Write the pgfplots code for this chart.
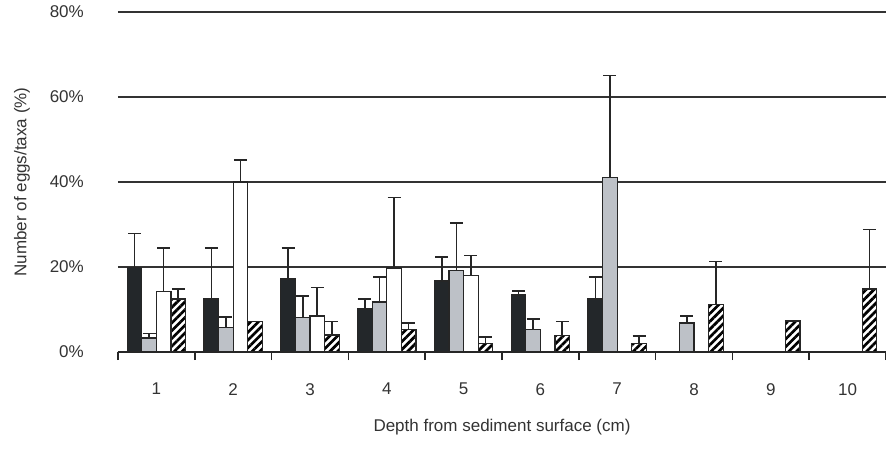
\documentclass[border=0pt]{standalone}
\usepackage{pgfplots}
\pgfplotsset{compat=1.18}
\usepackage{fontspec}
\setmainfont{Liberation Sans}
\usetikzlibrary{patterns.meta}
\definecolor{barblack}{HTML}{23272A}
\definecolor{bargray}{HTML}{BDC1C7}
\definecolor{edge}{HTML}{262626}
\definecolor{txt}{HTML}{333333}
\definecolor{gridc}{HTML}{333333}
\begin{document}
\begin{tikzpicture}
\path[use as bounding box] (-118pt,-96pt) rectangle (768pt,352pt);
\begin{axis}[
  at={(0,0)}, anchor=south west,
  scale only axis, width=768pt, height=340pt,
  xmin=0.5, xmax=10.5, ymin=0, ymax=80,
  ybar, bar width=0.19,
  axis x line*=bottom, axis y line*=left,
  y axis line style={draw=none},
  x axis line style={-, draw=edge, line width=1.3pt},
  xtick={1,2,3,4,5,6,7,8,9,10},
  xticklabels={1,2,3,4,5,6,7,8,9,10},
  minor xtick={0.5,1.5,...,10.5},
  ytick={0,20,40,60,80},
  yticklabels={0\%,20\%,40\%,60\%,80\%},
  ymajorgrids, grid style={draw=gridc, line width=1.3pt},
  major tick length=0pt, minor tick length=8pt, tick align=outside,
  tick style={draw=edge, line width=1.6pt},
  minor tick style={draw=edge, line width=1.6pt},
  ytick style={draw=none},
  tick label style={font=\fontsize{17}{20}\selectfont, text=txt},
  xticklabel style={anchor=north, inner sep=0pt, yshift=-31pt},
  yticklabel style={anchor=east, inner sep=0pt, xshift=-34pt},
  label style={font=\fontsize{17}{20}\selectfont, text=txt},
  xlabel={Depth from sediment surface (cm)},
  ylabel={Number of eggs/taxa (\%)},
  xlabel style={at={(axis description cs:0.5,0)}, anchor=north, inner sep=0pt, yshift=-67pt},
  ylabel style={at={(axis description cs:0,0.5)}, anchor=center, inner sep=0pt, yshift=96pt},
  error bars/y dir=plus, error bars/y explicit,
  error bars/error bar style={draw=edge, line width=1.6pt},
  error bars/error mark options={rotate=90, draw=edge, line width=1.6pt, mark size=6.5pt},
]
% black
\addplot[bar shift=-0.285, fill=barblack, draw=edge, line width=1.3pt] coordinates {
(1,19.9) +- (0,8.0)
(2,12.5) +- (0,12.0)
(3,17.2) +- (0,7.3)
(4,10.1) +- (0,2.4)
(5,16.7) +- (0,5.6)
(6,13.4) +- (0,1.0)
(7,12.5) +- (0,5.1)
};
% gray
\addplot[bar shift=-0.095, fill=bargray, draw=edge, line width=1.3pt] coordinates {
(1,3.3) +- (0,1.1)
(2,5.7) +- (0,2.6)
(3,8.2) +- (0,5.0)
(4,11.8) +- (0,5.8)
(5,19.1) +- (0,11.2)
(6,5.3) +- (0,2.4)
(7,41.0) +- (0,24.1)
(8,6.8) +- (0,1.7)
};
% white
\addplot[bar shift=0.095, fill=white, draw=edge, line width=1.3pt] coordinates {
(1,14.2) +- (0,10.3)
(2,40.0) +- (0,5.2)
(3,8.5) +- (0,6.7)
(4,19.8) +- (0,16.6)
(5,18.0) +- (0,4.7)
};
% hatched with error
\addplot[bar shift=0.285, pattern={Lines[angle=45,distance=5.5pt,line width=2.7pt]}, pattern color=black, draw=edge, line width=1.3pt] coordinates {
(1,12.5) +- (0,2.3)
(3,4.0) +- (0,3.2)
(4,5.3) +- (0,1.5)
(5,2.0) +- (0,1.5)
(6,3.9) +- (0,3.3)
(7,2.0) +- (0,1.8)
(8,11.1) +- (0,10.2)
(10,14.8) +- (0,14.0)
};
% hatched without error
\addplot[bar shift=0.285, pattern={Lines[angle=45,distance=5.5pt,line width=2.7pt]}, pattern color=black, draw=edge, line width=1.3pt, error bars/y dir=none] coordinates {
(2,7.1)
(9,7.3)
};
\end{axis}
\end{tikzpicture}
\end{document}
